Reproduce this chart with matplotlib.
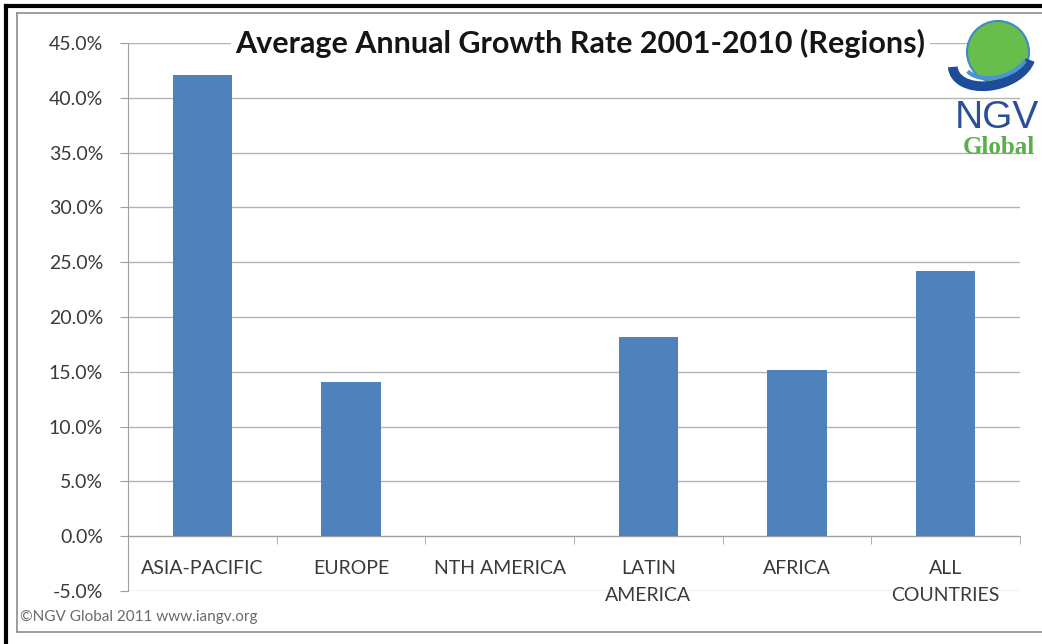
import numpy as np
import matplotlib
matplotlib.use('Agg')
import matplotlib.pyplot as plt
from matplotlib.lines import Line2D
from matplotlib.patches import Ellipse, Arc
from matplotlib.ticker import FuncFormatter, MultipleLocator

# 数据
regions = ['ASIA-PACIFIC', 'EUROPE', 'NTH AMERICA', 'LATIN\nAMERICA', 'AFRICA', 'ALL\nCOUNTRIES']
growth = [42.1, 14.1, 0.0, 18.2, 15.2, 24.2]
title = 'Average Annual Growth Rate 2001-2010 (Regions)'
footer = '\u00a9NGV Global 2011 www.iangv.org'

plt.rcParams['font.family'] = ['Lato', 'DejaVu Sans']

fig = plt.figure(figsize=(10.42, 6.44), dpi=100)
ax = fig.add_axes([128 / 1042, 1 - 591 / 644, 892 / 1042, 548 / 644])

x = np.arange(len(regions))
ax.bar(x, growth, width=0.4, color='#4F81BD', zorder=3)

ax.set_xlim(-0.5, len(regions) - 0.5)
ax.set_ylim(-5, 45)
ax.yaxis.set_major_locator(MultipleLocator(5))
ax.yaxis.set_major_formatter(FuncFormatter(lambda v, p: '%.1f%%' % v))
ax.grid(axis='y', color='#B4B4B4', linewidth=1.0, zorder=0)

# x轴放在 0 处
ax.spines['bottom'].set_position(('data', 0))
ax.spines['bottom'].set_color('#A0A0A0')
ax.spines['left'].set_color('#A0A0A0')
ax.spines['top'].set_visible(False)
ax.spines['right'].set_visible(False)

ax.set_xticks(x)
ax.set_xticklabels(regions, linespacing=1.7)
ax.set_xticks(np.arange(len(regions) + 1) - 0.5, minor=True)
ax.tick_params(axis='x', which='major', length=0, pad=17, labelsize=14, labelcolor='#3A3A3A')
ax.tick_params(axis='x', which='minor', length=6, direction='out', color='#A0A0A0')
ax.tick_params(axis='y', length=6, color='#A0A0A0', labelsize=14, labelcolor='#3A3A3A', pad=12)

ax.text(0.507, 1.0, title, transform=ax.transAxes, ha='center', va='center',
        fontsize=22, fontweight='bold', color='#151515', zorder=5,
        bbox=dict(facecolor='white', edgecolor='none', pad=3))

# 底部版权
fig.text(20 / 1042, 1 - 617 / 644, footer, fontsize=11, color='#6A6A6A', va='center')

# 边框
fig.add_artist(Line2D([6 / 1042, 6 / 1042], [0, 1 - 6 / 644], color='black', lw=3))
fig.add_artist(Line2D([6 / 1042, 1], [1 - 6 / 644, 1 - 6 / 644], color='black', lw=3))
fig.add_artist(Line2D([17 / 1042, 17 / 1042], [1 - 632 / 644, 1 - 13 / 644], color='#8C8C8C', lw=1.2))
fig.add_artist(Line2D([17 / 1042, 1], [1 - 13 / 644, 1 - 13 / 644], color='#8C8C8C', lw=1.2))
fig.add_artist(Line2D([17 / 1042, 1], [1 - 632 / 644, 1 - 632 / 644], color='#8C8C8C', lw=1.2))

# 标志
lax = fig.add_axes([940 / 1042, 1 - 170 / 644, 102 / 1042, 160 / 644])
lax.set_xlim(0, 102)
lax.set_ylim(160, 0)
lax.axis('off')
lax.add_patch(Ellipse((58, 42), 62, 62, facecolor='#69BE4B', edgecolor='#3A8CC8', lw=1.5))
lax.add_patch(Arc((52, 50), 80, 50, angle=-15, theta1=15, theta2=185, color='#1E4C98', lw=7))
lax.add_patch(Arc((56, 48), 64, 38, angle=-15, theta1=20, theta2=170, color='#4C93D2', lw=3))
lax.text(57, 108, 'NGV', ha='center', va='center', fontsize=28, color='#2A4E99',
         family='Liberation Sans')
lax.text(59, 137, 'Global', ha='center', va='center', fontsize=18, color='#5BAF4A',
         family='Liberation Serif', fontweight='bold')

fig.savefig('out.png', dpi=100, facecolor='white')
